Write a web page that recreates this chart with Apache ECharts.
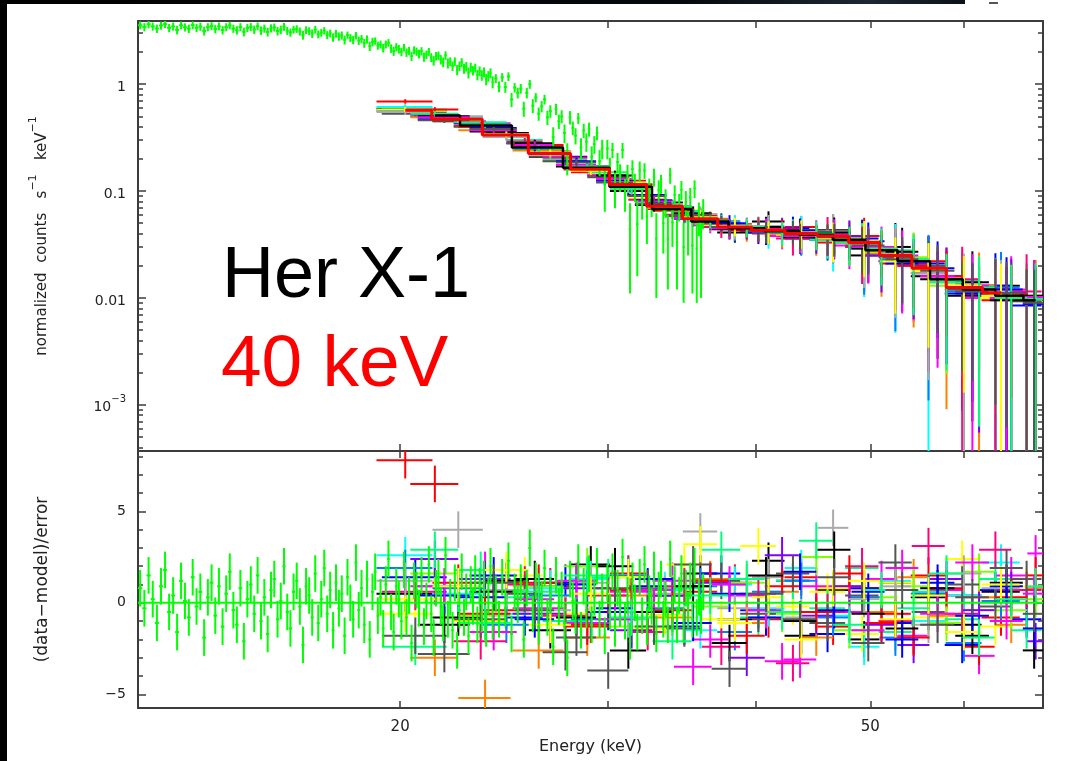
<!DOCTYPE html>
<html>
<head>
<meta charset="utf-8">
<title>Her X-1 spectrum</title>
<script src="https://cdn.jsdelivr.net/npm/echarts@6/dist/echarts.min.js"></script>
<style>
  html, body { margin: 0; padding: 0; background: #ffffff; }
  #chart { width: 1073px; height: 761px; }
</style>
</head>
<body>
<div id="chart"></div>
<script>
// ---------- axis ranges and ticks ----------
const energyMin = 12, energyMax = 70;
const energyTicks = [20, 30, 40, 50, 60];
const energyLabels = [20, 50];
const countsMin = 3.7e-4, countsMax = 3.9;
const countsMajor = [0.001, 0.01, 0.1, 1];
const countsMinor = [0.0004, 0.0005, 0.0006, 0.0007, 0.0008, 0.0009,
  0.002, 0.003, 0.004, 0.005, 0.006, 0.007, 0.008, 0.009,
  0.02, 0.03, 0.04, 0.05, 0.06, 0.07, 0.08, 0.09,
  0.2, 0.3, 0.4, 0.5, 0.6, 0.7, 0.8, 0.9, 2, 3];
const residMin = -5.75, residMax = 8.3;
const residMajor = [-5, 0, 5];
const residMinor = [-5, -4, -3, -2, -1, 0, 1, 2, 3, 4, 5, 6, 7, 8];

// ---------- finely binned spectrum (green) ----------
const greenEnergy = [
  12.05,12.15,12.25,12.35,12.45,12.55,12.65,12.75,12.85,12.95,
  13.05,13.15,13.25,13.35,13.45,13.55,13.65,13.75,13.85,13.95,
  14.05,14.15,14.25,14.35,14.45,14.55,14.65,14.75,14.85,14.95,
  15.05,15.15,15.25,15.35,15.45,15.55,15.65,15.75,15.85,15.95,
  16.05,16.15,16.25,16.35,16.45,16.55,16.65,16.75,16.85,16.95,
  17.05,17.15,17.25,17.35,17.45,17.55,17.65,17.75,17.85,17.95,
  18.05,18.15,18.25,18.35,18.45,18.55,18.65,18.75,18.85,18.95,
  19.05,19.15,19.25,19.35,19.45,19.55,19.65,19.75,19.85,19.95,
  20.05,20.15,20.25,20.35,20.45,20.55,20.65,20.75,20.85,20.95,
  21.05,21.15,21.25,21.35,21.45,21.55,21.65,21.75,21.85,21.95,
  22.05,22.15,22.25,22.35,22.45,22.55,22.65,22.75,22.85,22.95,
  23.05,23.15,23.25,23.35,23.45,23.55,23.65,23.75,23.85,23.95,
  24.1,24.25,24.4,24.55,24.7,24.85,25.0,25.15,25.3,25.45,
  25.6,25.75,25.9,26.05,26.2,26.35,26.5,26.65,26.8,26.95,
  27.1,27.25,27.4,27.55,27.7,27.85,28.0,28.15,28.3,28.45,
  28.6,28.75,28.9,29.05,29.2,29.35,29.5,29.65,29.8,29.95,
  30.1,30.25,30.4,30.55,30.7,30.85,31.0,31.15,31.3,31.45,
  31.6,31.75,31.9,32.05,32.2,32.35,32.5,32.65,32.8,32.95,
  33.1,33.25,33.4,33.55,33.7,33.85,34.0,34.15,34.3,34.45,
  34.6,34.75,34.9,35.05,35.2,35.35,35.5,35.65,35.8,35.95,
  36.1];
const greenFlux = [
  3.56,3.42,3.63,3.47,3.31,3.54,3.65,3.36,3.47,3.22,
  3.56,3.41,3.31,3.57,3.37,3.46,3.15,3.42,3.50,3.29,
  3.48,3.21,3.42,3.55,3.31,3.20,3.43,3.09,3.36,3.44,
  3.24,3.48,3.18,3.32,3.08,3.34,3.40,3.14,3.24,3.45,
  3.16,3.05,3.25,3.29,3.12,2.88,3.21,3.14,2.98,3.24,
  2.93,3.03,3.17,2.89,2.99,2.74,2.97,2.80,2.86,2.60,
  2.88,2.71,2.59,2.85,2.56,2.65,2.42,2.63,2.27,2.49,
  2.54,2.30,2.36,2.18,2.36,2.44,2.16,2.04,2.22,2.13,
  2.01,2.20,1.98,2.05,1.83,2.08,2.02,1.92,2.04,1.80,
  1.89,2.01,1.78,1.66,1.83,1.85,1.70,1.61,1.86,1.57,
  1.63,1.48,1.63,1.36,1.48,1.60,1.40,1.46,1.28,1.44,
  1.34,1.42,1.22,1.33,1.21,1.30,1.11,1.19,1.27,1.05,
  1.13,0.95,1.16,0.94,1.18,0.72,0.93,0.83,0.91,0.59,
  0.83,1.00,0.63,0.75,0.53,0.62,0.72,0.49,0.56,0.32,
  0.585,0.45,0.50,0.35,0.21,0.49,0.39,0.33,0.48,0.255,
  0.37,0.29,0.38,0.21,0.275,0.35,0.19,0.25,0.116,0.25,
  0.165,0.243,0.109,0.187,0.138,0.242,0.097,0.143,0.044,0.161,
  0.112,0.049,0.156,0.080,0.156,0.058,0.105,0.083,0.136,0.036,
  0.102,0.118,0.050,0.080,0.036,0.141,0.051,0.092,0.033,0.073,
  0.103,0.030,0.079,0.045,0.087,0.031,0.106,0.029,0.058,0.030,
  0.064];
const greenResid = [
  0.8,-0.3,1.5,0.2,-1.1,0.9,1.8,-0.5,0.4,-1.6,
  1.2,0.1,-0.8,1.4,-0.2,0.6,-1.9,0.3,1.1,-0.7,
  0.9,-1.3,0.5,1.7,-0.4,-1.2,0.8,-2.1,0.2,1.0,
  -0.6,1.5,-1.0,0.3,-1.7,0.7,1.3,-0.9,0.1,2.0,
  -0.5,-1.4,0.6,1.2,-0.2,-2.3,0.9,0.4,-0.8,1.6,
  -1.1,0.2,1.9,-0.6,0.7,-1.5,1.1,-0.3,0.5,-1.8,
  1.4,0.0,-0.9,2.2,-0.4,0.8,-1.2,1.3,-2.0,0.6,
  1.7,-0.7,0.3,-1.4,1.0,2.4,-0.5,-1.6,0.9,0.2,
  -1.0,1.8,-0.8,0.4,-2.2,1.2,0.7,-0.3,1.5,-1.3,
  0.1,2.1,-0.6,-1.9,0.8,1.4,-0.2,-1.1,2.6,-0.9,
  0.3,-1.5,1.1,-2.6,-0.4,1.7,-0.8,0.6,-1.8,1.0,
  -0.2,1.6,-1.2,0.9,-0.6,1.3,-1.4,0.4,2.0,-1.0,
  0.5,-0.9,1.4,-0.3,2.3,-1.7,0.6,-0.1,1.1,-2.0,
  0.8,3.0,-0.6,1.2,-1.3,0.2,1.9,-0.8,0.4,-2.4,
  1.5,-0.2,0.7,-1.1,-3.0,1.3,0.1,-0.7,2.2,-1.5,
  0.9,-0.4,1.6,-1.2,0.3,2.0,-0.9,0.6,-1.8,1.1,
  -0.5,1.7,-1.4,0.8,-0.3,2.5,-1.0,0.4,-2.1,1.2,
  0.0,-1.6,1.4,-0.7,2.1,-1.3,0.5,-0.2,1.8,-1.7,
  0.7,1.3,-0.9,0.2,-1.2,2.4,-0.6,1.0,-1.2,0.4,
  1.6,-1.2,0.8,-0.4,1.2,-0.9,2.0,-0.8,0.3,-0.7,
  0.6];
// [upper energy bound (keV), value] look-up tables for the green channels
const greenErrorBands = [[13,0.3],[14,0.3],[15,0.29],[16,0.29],[17,0.27],[18,0.25],[19,0.23],[20,0.2],
  [21,0.18],[22,0.17],[23,0.15],[24,0.135],[25,0.11],[26,0.095],[27,0.075],[28,0.07],[29,0.057],
  [30,0.052],[31,0.04],[32,0.033],[33,0.026],[34,0.024],[35,0.021],[36.2,0.02]];
const greenHalfWidthBands = [[24.0, 0.05], [36.2, 0.075]];

// ---------- coarse energy grids of the broadband spectra ----------
const gridAEnergy = [20.2,22.4,24.6,26.8,29.0,31.2,33.5,35.9,38.4,41.0,43.7,46.5,49.4,52.5,56.0,60.0,64.5];
const gridAHalf   = [1.1,1.1,1.1,1.1,1.1,1.1,1.2,1.2,1.3,1.3,1.4,1.4,1.5,1.6,1.9,2.1,2.4];
const gridARelErr = [0.06,0.06,0.07,0.08,0.10,0.12,0.15,0.18,0.22,0.27,0.33,0.45,0.6,0.75,0.9,1.0,1.1];
const gridBEnergy = [21.4,23.6,26.2,28.8,31.4,34.0,36.6,39.3,42.1,45.0,48.0,51.1,54.4,58.0,61.8,65.8,69.0];
const gridBHalf   = [1.0,1.2,1.3,1.3,1.3,1.3,1.3,1.4,1.4,1.5,1.5,1.6,1.7,1.9,1.9,2.1,1.1];
const gridBRelErr = [0.06,0.07,0.08,0.09,0.11,0.14,0.16,0.20,0.25,0.30,0.40,0.55,0.7,0.85,0.95,1.05,1.15];
const gridCEnergy = [20.6,23.4,25.5,27.6,30.0,32.4,34.8,37.4,40.2,43.0,46.0,49.2,52.5,56.0,59.8,63.8,67.8];
const gridCHalf   = [1.3,1.2,0.9,1.2,1.2,1.2,1.2,1.4,1.4,1.4,1.6,1.6,1.7,1.8,2.0,2.0,2.0];
const gridCRelErr = [0.06,0.07,0.075,0.085,0.10,0.13,0.15,0.19,0.24,0.28,0.36,0.5,0.65,0.8,0.92,1.02,1.12];
const gridDEnergy = [21.8,24.0,26.0,28.2,30.4,32.8,35.4,38.0,40.8,43.6,46.6,49.8,53.2,57.0,61.0,65.2,68.8];
const gridDHalf   = [1.1,1.1,1.0,1.1,1.1,1.2,1.3,1.3,1.4,1.4,1.5,1.6,1.7,1.9,2.0,2.1,1.5];
const gridDRelErr = [0.065,0.07,0.08,0.09,0.11,0.13,0.16,0.2,0.25,0.3,0.38,0.52,0.68,0.82,0.95,1.05,1.15];

// folded model curves (stepped)
const modelA = [0.57,0.47,0.335,0.225,0.16,0.115,0.072,0.055,0.046,0.043,0.040,0.038,0.033,0.025,0.019,0.0125,0.0112];
const modelB = [0.51,0.41,0.255,0.165,0.11,0.068,0.052,0.045,0.042,0.039,0.035,0.028,0.022,0.015,0.012,0.0105,0.0095];

// ---------- broadband spectra: counts and residuals ----------
const blackFlux = [0.59,0.45,0.35,0.21,0.17,0.10,0.078,0.060,0.041,0.052,0.036,0.043,0.025,0.030,0.016,0.0105,0.013];
const blackResid = [0.5,-0.8,1.2,-1.5,2.1,-2.6,0.4,1.6,-0.9,2.3,-1.8,0.7,-2.0,1.1,0.3,-1.2,0.6];
const redFlux = [0.69,0.49,0.33,0.235,0.15,0.125,0.068,0.058,0.049,0.040,0.046,0.033,0.038,0.021,0.022,0.014,0.0095];
const redResid = [7.8,1.1,-0.4,0.9,-1.2,1.6,-0.7,0.6,1.1,-0.9,1.4,-1.3,0.8,-0.6,1.5,0.4,-0.8];
const blueFlux = [0.57,0.43,0.28,0.21,0.14,0.092,0.059,0.052,0.042,0.045,0.035,0.036,0.022,0.021,0.011,0.013,0.0085];
const blueResid = [1.4,0.3,-0.8,1.1,-0.5,0.9,-1.3,1.6,-0.4,1.2,-1.7,0.8,-1.1,0.5,-2.3,0.7,-0.9];
const cyanFlux = [0.61,0.48,0.32,0.23,0.165,0.11,0.075,0.052,0.048,0.041,0.043,0.035,0.030,0.027,0.017,0.012,0.0105];
const cyanResid = [2.6,0.5,-0.6,0.8,1.3,-0.9,0.7,-1.5,1.0,-0.3,1.9,-0.7,-2.4,1.2,-1.0,0.4,2.2];
const magentaFlux = [0.50,0.43,0.26,0.16,0.115,0.072,0.048,0.047,0.038,0.041,0.031,0.030,0.020,0.016,0.010,0.012,0.0088];
const magentaResid = [0.9,1.8,-0.3,-1.1,0.6,1.2,-2.0,0.4,-3.2,0.9,-0.5,1.3,-1.8,0.7,-2.9,1.5,2.7];
const yellowFlux = [0.56,0.40,0.30,0.19,0.15,0.085,0.066,0.047,0.046,0.039,0.040,0.031,0.027,0.018,0.014,0.010,0.0105];
const yellowResid = [0.2,-1.0,1.5,-0.6,0.8,-1.4,2.1,-0.9,3.1,-0.2,0.6,-1.7,1.1,-0.8,2.4,-1.3,0.9];
const orangeFlux = [0.49,0.37,0.24,0.17,0.105,0.065,0.055,0.043,0.040,0.037,0.036,0.026,0.023,0.014,0.013,0.0098,0.010];
const orangeResid = [-3.0,-5.2,-2.6,-1.9,0.4,-0.8,1.3,-1.1,0.6,-1.9,0.9,-0.5,1.4,-0.7,0.3,-1.2,0.8];
const limeFlux = [0.52,0.40,0.26,0.16,0.112,0.070,0.050,0.046,0.043,0.037,0.036,0.027,0.024,0.013,0.0125,0.011,0.0092];
const limeResid = [1.6,-0.7,0.9,2.0,-1.3,0.5,-0.2,1.1,-0.6,2.5,-1.5,0.3,0.9,-1.1,1.7,-0.4,0.2];
const springFlux = [0.58,0.44,0.30,0.195,0.15,0.09,0.065,0.051,0.047,0.043,0.035,0.034,0.028,0.020,0.0145,0.012,0.0102];
const springResid = [-2.4,1.8,0.3,-1.0,1.4,-0.5,0.8,2.9,-0.8,1.2,-0.3,1.9,-1.6,0.6,-0.9,1.3,-1.5];
const azureFlux = [0.56,0.46,0.34,0.22,0.158,0.118,0.07,0.057,0.044,0.045,0.038,0.040,0.029,0.023,0.020,0.0115,0.0125];
const azureResid = [1.9,0.8,-1.2,0.4,-0.9,1.5,-0.3,0.9,-1.6,0.6,1.2,-0.8,0.3,-1.9,0.5,-2.2,0.1];
const violetFlux = [0.52,0.42,0.25,0.17,0.108,0.07,0.051,0.044,0.045,0.037,0.038,0.025,0.021,0.016,0.011,0.0112,0.0088];
const violetResid = [2.4,1.3,-0.6,0.8,-1.5,0.4,1.1,-3.0,2.6,-0.7,0.9,-1.2,-2.3,1.3,-0.4,0.7,-2.1];
const roseFlux = [0.54,0.41,0.29,0.205,0.14,0.083,0.06,0.046,0.045,0.036,0.041,0.030,0.026,0.017,0.015,0.0108,0.0115];
const roseResid = [0.6,-2.1,1.0,-0.7,0.4,-1.6,0.9,-2.4,0.5,-3.3,-0.5,2.0,-1.0,3.1,-0.6,2.9,0.7];
const darkGreyFlux = [0.53,0.40,0.28,0.19,0.135,0.09,0.058,0.050,0.043,0.042,0.037,0.031,0.024,0.020,0.012,0.0122,0.0093];
const darkGreyResid = [-1.8,-0.9,0.5,-2.7,-3.7,0.8,-1.4,1.2,-0.6,1.6,-1.1,0.4,2.2,-0.5,1.0,-0.2,1.3];
const lightGreyFlux = [0.55,0.50,0.32,0.215,0.165,0.11,0.074,0.061,0.045,0.047,0.039,0.042,0.031,0.026,0.017,0.013,0.0108];
const lightGreyResid = [1.2,4.0,0.7,-0.4,1.1,-0.9,0.5,3.9,-0.3,1.4,-0.8,4.1,0.2,0.9,-1.2,1.6,0.8];
const red2Flux = [0.58,0.40,0.27,0.16,0.115,0.066,0.054,0.043,0.044,0.038,0.034,0.029,0.020,0.016,0.011,0.0108,0.0098];
const red2Resid = [6.5,-0.6,1.1,-1.3,0.7,-0.4,1.2,-1.8,0.9,-0.5,1.6,-1.1,-1.9,0.8,-2.4,0.3,1.5];
const black2Flux = [0.50,0.36,0.28,0.17,0.14,0.074,0.062,0.044,0.046,0.037,0.041,0.029,0.027,0.015,0.014,0.0095,0.0105];
const black2Resid = [-1.2,0.6,1.3,-0.8,2.0,-0.5,0.9,-2.2,1.5,-1.0,2.9,-0.6,-1.4,0.8,-1.8,1.1,-2.6];
const blue2Flux = [0.47,0.39,0.25,0.19,0.125,0.082,0.055,0.050,0.041,0.043,0.036,0.034,0.021,0.019,0.011,0.012,0.0088];
const blue2Resid = [0.4,1.5,-0.9,1.0,-0.3,1.3,-1.1,0.5,-0.8,1.7,-0.4,0.6,-2.0,1.1,-0.7,0.9,-1.4];
const magenta2Flux = [0.49,0.37,0.27,0.175,0.13,0.08,0.056,0.045,0.044,0.038,0.039,0.030,0.025,0.016,0.013,0.010,0.0102];
const magenta2Resid = [0.9,-1.6,0.2,1.2,-0.9,0.7,-3.5,1.0,-0.4,-3.1,0.8,-1.5,1.9,-0.6,2.2,-1.0,0.5];
const yellow2Flux = [0.58,0.46,0.34,0.23,0.155,0.12,0.07,0.057,0.047,0.042,0.041,0.036,0.034,0.022,0.018,0.013,0.0105];
const yellow2Resid = [-0.6,0.9,1.8,-1.2,0.5,1.4,-0.7,3.2,-1.1,0.3,-2.0,0.8,1.2,-0.9,0.4,-1.6,1.0];
const spring2Flux = [0.53,0.42,0.25,0.17,0.105,0.071,0.053,0.046,0.041,0.040,0.033,0.029,0.023,0.014,0.0125,0.010,0.0098];
const spring2Resid = [2.9,-1.1,0.6,1.5,-0.8,-2.1,0.4,1.3,-0.5,3.4,-1.2,0.7,-0.3,1.6,-1.9,0.2,0.9];
const darkGrey2Flux = [0.46,0.38,0.26,0.185,0.12,0.076,0.060,0.046,0.042,0.039,0.037,0.031,0.023,0.018,0.0115,0.0112,0.009];
const darkGrey2Resid = [-2.8,1.1,-0.4,-1.9,0.8,-1.3,2.1,-3.6,0.5,-0.9,1.4,-2.2,0.7,-1.2,0.3,1.9,-0.6];

// ---------- assemble ----------
const grids = {
  A: { e: gridAEnergy, hw: gridAHalf, rel: gridARelErr },
  B: { e: gridBEnergy, hw: gridBHalf, rel: gridBRelErr },
  C: { e: gridCEnergy, hw: gridCHalf, rel: gridCRelErr },
  D: { e: gridDEnergy, hw: gridDHalf, rel: gridDRelErr }
};
const spectra = [
  { color: '#000000', grid: 'A', scale: 0.9,  flux: blackFlux,     resid: blackResid },
  { color: '#ff0000', grid: 'A', scale: 0.8,  flux: redFlux,       resid: redResid },
  { color: '#0000ff', grid: 'C', scale: 1.0,  flux: blueFlux,      resid: blueResid },
  { color: '#00ffff', grid: 'A', scale: 1.1,  flux: cyanFlux,      resid: cyanResid },
  { color: '#ff00ff', grid: 'B', scale: 1.0,  flux: magentaFlux,   resid: magentaResid },
  { color: '#ffff00', grid: 'C', scale: 0.9,  flux: yellowFlux,    resid: yellowResid },
  { color: '#ff8000', grid: 'B', scale: 1.1,  flux: orangeFlux,    resid: orangeResid },
  { color: '#80ff00', grid: 'B', scale: 1.0,  flux: limeFlux,      resid: limeResid },
  { color: '#00ff80', grid: 'C', scale: 0.95, flux: springFlux,    resid: springResid },
  { color: '#0080ff', grid: 'A', scale: 1.05, flux: azureFlux,     resid: azureResid },
  { color: '#8000ff', grid: 'B', scale: 1.0,  flux: violetFlux,    resid: violetResid },
  { color: '#ff0080', grid: 'C', scale: 1.1,  flux: roseFlux,      resid: roseResid },
  { color: '#555555', grid: 'C', scale: 0.9,  flux: darkGreyFlux,  resid: darkGreyResid },
  { color: '#aaaaaa', grid: 'A', scale: 1.0,  flux: lightGreyFlux, resid: lightGreyResid },
  { color: '#ff0000', grid: 'B', scale: 0.85, flux: red2Flux,      resid: red2Resid },
  { color: '#000000', grid: 'D', scale: 1.0,  flux: black2Flux,    resid: black2Resid },
  { color: '#0000ff', grid: 'D', scale: 0.95, flux: blue2Flux,     resid: blue2Resid },
  { color: '#ff00ff', grid: 'D', scale: 1.05, flux: magenta2Flux,  resid: magenta2Resid },
  { color: '#ffff00', grid: 'A', scale: 0.9,  flux: yellow2Flux,   resid: yellow2Resid },
  { color: '#00ff80', grid: 'B', scale: 1.0,  flux: spring2Flux,   resid: spring2Resid },
  { color: '#555555', grid: 'D', scale: 0.9,  flux: darkGrey2Flux, resid: darkGrey2Resid }
];

function bandValue(bands, e) {
  for (let i = 0; i < bands.length; i++) if (e < bands[i][0]) return bands[i][1];
  return bands[bands.length - 1][1];
}

const FLOOR = 1e-7;
function countRows(E, HW, flux, err) {
  return E.map((e, i) => [e, HW[i], flux[i], Math.max(flux[i] - err[i], FLOOR), flux[i] + err[i]]);
}
function residRows(E, HW, resid) {
  return E.map((e, i) => [e, HW[i], resid[i], resid[i] - 1, resid[i] + 1]);
}

function crossRenderer(width) {
  return function (params, api) {
    const e = api.value(0), hw = api.value(1), v = api.value(2), lo = api.value(3), hi = api.value(4);
    const l = api.coord([e - hw, v]), r = api.coord([e + hw, v]);
    const t = api.coord([e, hi]), b = api.coord([e, lo]);
    const style = { stroke: api.visual('color'), lineWidth: width };
    return {
      type: 'group',
      children: [
        { type: 'line', shape: { x1: l[0], y1: l[1], x2: r[0], y2: r[1] }, style: style },
        { type: 'line', shape: { x1: t[0], y1: t[1], x2: b[0], y2: b[1] }, style: style }
      ]
    };
  };
}

function crossSeries(rows, color, xi, yi, width) {
  return {
    type: 'custom',
    xAxisIndex: xi, yAxisIndex: yi,
    clip: true,
    silent: true,
    itemStyle: { color: color },
    renderItem: crossRenderer(width),
    dimensions: ['e', 'hw', 'v', 'lo', 'hi'],
    encode: { x: 0, y: 2 },
    data: rows
  };
}

const series = [];
// black folded model underneath the data
series.push({
  type: 'line', xAxisIndex: 0, yAxisIndex: 0, step: 'middle', symbol: 'none', silent: true,
  lineStyle: { color: '#000000', width: 2.5 },
  data: gridBEnergy.map((e, i) => [e, modelB[i]])
});
spectra.forEach(s => {
  const g = grids[s.grid];
  const err = s.flux.map((f, i) => f * g.rel[i] * s.scale);
  series.push(crossSeries(countRows(g.e, g.hw, s.flux, err), s.color, 0, 0, 2));
});
// red folded model over the data
series.push({
  type: 'line', xAxisIndex: 0, yAxisIndex: 0, step: 'middle', symbol: 'none', silent: true,
  lineStyle: { color: '#ff0000', width: 3 },
  data: gridAEnergy.map((e, i) => [e, modelA[i]])
});
const greenHW = greenEnergy.map(e => bandValue(greenHalfWidthBands, e));
const greenErr = greenEnergy.map(e => bandValue(greenErrorBands, e));
series.push(crossSeries(countRows(greenEnergy, greenHW, greenFlux, greenErr), '#00ff00', 0, 0, 2));

// residual panel
spectra.forEach(s => {
  const g = grids[s.grid];
  series.push(crossSeries(residRows(g.e, g.hw, s.resid), s.color, 2, 4, 2));
});
series.push(crossSeries(residRows(greenEnergy, greenHW, greenResid), '#00ff00', 2, 4, 2));
series.push({
  type: 'line', xAxisIndex: 2, yAxisIndex: 4, symbol: 'none', silent: true,
  lineStyle: { color: '#00ff00', width: 2 },
  data: [[energyMin, 0], [energyMax, 0]]
});

// ---------- axes ----------
const AXIS = '#3c3c3c';
const FONT = 'DejaVu Sans';
const labelStyle = { color: '#222222', fontSize: 14, fontFamily: FONT };

function xAxis(gridIndex, position, withLabels) {
  return {
    type: 'log', logBase: 10, gridIndex: gridIndex, position: position,
    min: energyMin, max: energyMax,
    axisLine: { show: true, onZero: false, lineStyle: { color: AXIS, width: 2 } },
    axisTick: { show: true, inside: true, length: 7, customValues: energyTicks, lineStyle: { color: AXIS, width: 1.5 } },
    axisLabel: withLabels ? Object.assign({ show: true, customValues: energyLabels, margin: 12 }, labelStyle, { fontSize: 15 }) : { show: false },
    splitLine: { show: false }, minorTick: { show: false },
    name: withLabels ? 'Energy (keV)' : '',
    nameLocation: 'middle', nameGap: 31,
    nameTextStyle: { color: '#222222', fontSize: 16, fontFamily: FONT }
  };
}

function yAxis(gridIndex, type, min, max, position, ticks, len, labels, showLine, extra) {
  const cfg = {
    type: type, gridIndex: gridIndex, position: position, min: min, max: max,
    axisLine: { show: showLine, onZero: false, lineStyle: { color: AXIS, width: 2 } },
    axisTick: { show: true, inside: true, length: len, customValues: ticks, lineStyle: { color: AXIS, width: 1.5 } },
    axisLabel: { show: false },
    splitLine: { show: false }, minorTick: { show: false }
  };
  if (type === 'log') cfg.logBase = 10;
  if (labels) {
    cfg.axisLabel = Object.assign({ show: true, customValues: labels, margin: 12 }, labelStyle, extra || {});
  }
  return cfg;
}

const countLabelExtra = {
  formatter: function (v) {
    if (Math.abs(v - 0.001) < 1e-9) return '{n|10}{s|−3}';
    return '{n|' + String(+v.toPrecision(3)) + '}';
  },
  rich: {
    n: { fontSize: 14, fontFamily: FONT, color: '#222222', verticalAlign: 'bottom', lineHeight: 20 },
    s: { fontSize: 10, fontFamily: FONT, color: '#222222', verticalAlign: 'top', lineHeight: 20 }
  }
};
const residLabelExtra = {
  formatter: function (v) { return v < 0 ? '−' + Math.abs(v) : String(v); }
};

const yTopMain = yAxis(0, 'log', countsMin, countsMax, 'left', countsMajor, 8, countsMajor, true, countLabelExtra);
yTopMain.name = '{t|normalized  counts   s}{s|−1}{t|   keV}{s|−1}';
yTopMain.nameLocation = 'middle';
yTopMain.nameGap = 88;
yTopMain.nameTextStyle = {
  rich: {
    t: { fontSize: 15, fontFamily: FONT, color: '#222222', verticalAlign: 'bottom', lineHeight: 22 },
    s: { fontSize: 11, fontFamily: FONT, color: '#222222', verticalAlign: 'top', lineHeight: 22 }
  }
};

const yBotMain = yAxis(1, 'value', residMin, residMax, 'left', residMajor, 8, residMajor, true, residLabelExtra);
yBotMain.name = '(data−model)/error';
yBotMain.nameLocation = 'middle';
yBotMain.nameGap = 87;
yBotMain.nameTextStyle = { fontSize: 17, fontFamily: FONT, color: '#222222' };

const option = {
  backgroundColor: '#ffffff',
  animation: false,
  grid: [
    { left: 138, top: 21, width: 905, height: 430 },
    { left: 138, top: 451, width: 905, height: 257 }
  ],
  xAxis: [
    xAxis(0, 'bottom', false),
    xAxis(0, 'top', false),
    xAxis(1, 'bottom', true),
    xAxis(1, 'top', false)
  ],
  yAxis: [
    yTopMain,
    yAxis(0, 'log', countsMin, countsMax, 'left', countsMinor, 5, null, false),
    yAxis(0, 'log', countsMin, countsMax, 'right', countsMajor, 8, null, true),
    yAxis(0, 'log', countsMin, countsMax, 'right', countsMinor, 5, null, false),
    yBotMain,
    yAxis(1, 'value', residMin, residMax, 'left', residMinor, 5, null, false),
    yAxis(1, 'value', residMin, residMax, 'right', residMajor, 8, null, true),
    yAxis(1, 'value', residMin, residMax, 'right', residMinor, 5, null, false)
  ],
  graphic: [
    { type: 'rect', shape: { x: 0, y: 0, width: 7, height: 761 }, style: { fill: '#000000' }, z: 100 },
    { type: 'rect', shape: { x: 0, y: 0, width: 965, height: 4 }, z: 100,
      style: { fill: new echarts.graphic.LinearGradient(0, 0, 1, 0, [
        { offset: 0, color: '#000000' }, { offset: 0.7, color: '#05080c' },
        { offset: 0.9, color: '#1c2733' }, { offset: 1, color: '#0b1118' }]) } },
    { type: 'rect', shape: { x: 989, y: 2, width: 9, height: 2 }, style: { fill: '#555555' }, z: 100 },
    { type: 'text', x: 222, y: 241, z: 100,
      style: { text: 'Her X-1', fontSize: 72, fontFamily: 'Liberation Sans', fill: '#000000', verticalAlign: 'top' } },
    { type: 'text', x: 221, y: 329, z: 100,
      style: { text: '40 keV', fontSize: 73, fontFamily: 'Liberation Sans', fill: '#ff0000', verticalAlign: 'top' } }
  ],
  series: series
};

const chart = echarts.init(document.getElementById('chart'), null, { renderer: 'canvas' });
chart.setOption(option);
</script>
</body>
</html>
